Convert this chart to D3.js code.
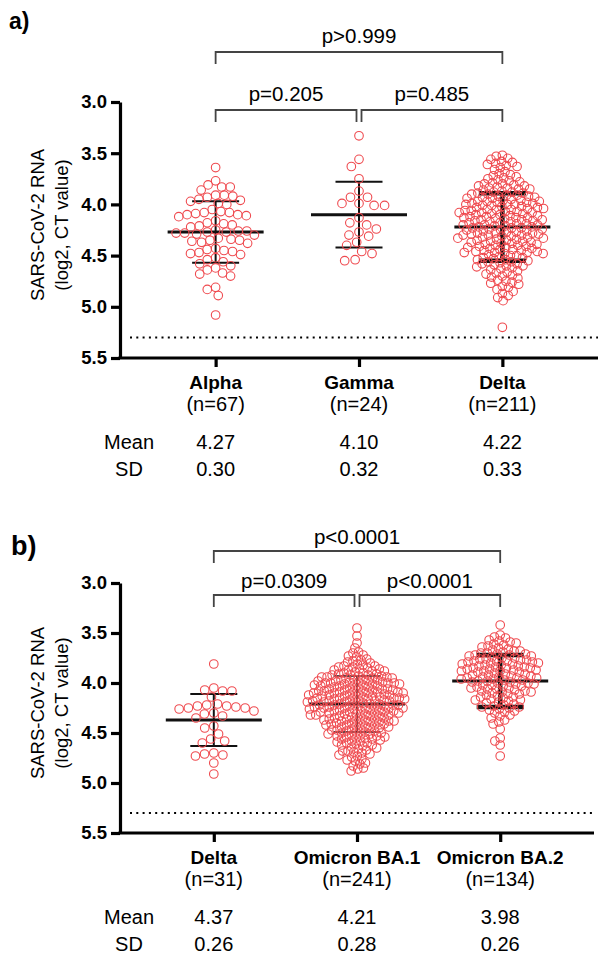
<!DOCTYPE html>
<html>
<head>
<meta charset="utf-8">
<script src="https://cdn.jsdelivr.net/npm/d3@7"></script>
<style>
  body { margin: 0; background: #fff; }
  svg { display: block; font-family: "Liberation Sans", Arial, sans-serif; }
</style>
</head>
<body>
<div id="chart"></div>
<script>
// ---- data ----
var groupsA = ["Alpha", "Gamma", "Delta"];
var countsA = [67, 24, 211];
var meansA = [4.27, 4.10, 4.22];
var sdsA = [0.30, 0.32, 0.33];
var pairsA = [[0, 1], [1, 2], [0, 2]];
var pLabelsA = ["p=0.205", "p=0.485", "p>0.999"];

var groupsB = ["Delta", "Omicron BA.1", "Omicron BA.2"];
var countsB = [31, 241, 134];
var meansB = [4.37, 4.21, 3.98];
var sdsB = [0.26, 0.28, 0.26];
var pairsB = [[0, 1], [1, 2], [0, 2]];
var pLabelsB = ["p=0.0309", "p<0.0001", "p<0.0001"];

var yTicks = [3.0, 3.5, 4.0, 4.5, 5.0, 5.5];
var detectionLimit = 5.3;

var alpha = [3.64, 3.77, 3.81, 3.83, 3.83, 3.86, 3.91, 3.91, 3.92, 3.93, 3.95, 3.96, 3.97,
  3.99, 4.00,
  4.05, 4.07, 4.08, 4.08, 4.09, 4.10, 4.10, 4.11, 4.12,
  4.16, 4.18, 4.19, 4.20, 4.21, 4.22,
  4.25, 4.26, 4.26, 4.27, 4.27, 4.28, 4.28, 4.29, 4.30,
  4.33, 4.34, 4.35, 4.35, 4.36, 4.37, 4.38,
  4.43, 4.44, 4.45, 4.46, 4.47, 4.48, 4.49,
  4.52, 4.54, 4.56, 4.58, 4.60, 4.62, 4.64,
  4.67, 4.68, 4.70, 4.81, 4.83, 4.89, 5.08];

var gamma = [3.33, 3.56, 3.63, 3.75, 3.87, 3.93, 3.93, 3.99, 3.99, 4.01, 4.01, 4.13,
  4.18, 4.20, 4.24, 4.27, 4.30, 4.31, 4.37, 4.40, 4.46, 4.48, 4.54, 4.55];

var deltaA = [3.52, 3.53, 3.55, 3.56, 3.58,
  3.59, 3.60, 3.61, 3.62, 3.63, 3.64,
  3.66, 3.68, 3.70, 3.71,
  3.72, 3.73, 3.74, 3.75, 3.76, 3.77, 3.78, 3.79,
  3.80, 3.80, 3.81, 3.82, 3.82, 3.83, 3.84, 3.84, 3.85, 3.85, 3.86, 3.87,
  3.88, 3.88, 3.89, 3.89, 3.90, 3.90, 3.91, 3.91, 3.92, 3.92, 3.93, 3.93, 3.94, 3.94, 3.95,
  3.96, 3.96, 3.97, 3.97, 3.97, 3.98, 3.98, 3.99, 3.99, 4.00, 4.00, 4.00, 4.01, 4.01, 4.02, 4.02,
  4.03, 4.03, 4.04, 4.04, 4.05, 4.05, 4.05, 4.06, 4.06, 4.07, 4.07, 4.08, 4.08, 4.08, 4.09, 4.09, 4.10,
  4.10, 4.11, 4.11, 4.12, 4.12, 4.13, 4.13, 4.13, 4.14, 4.14, 4.15, 4.15, 4.15, 4.16, 4.16, 4.17, 4.17,
  4.18, 4.18, 4.19, 4.19, 4.20, 4.20, 4.20, 4.21, 4.21, 4.22, 4.22, 4.23, 4.23, 4.23, 4.24, 4.24, 4.25,
  4.25, 4.26, 4.26, 4.27, 4.27, 4.28, 4.28, 4.28, 4.29, 4.29, 4.30, 4.30, 4.30, 4.31, 4.31, 4.32, 4.32,
  4.33, 4.33, 4.34, 4.34, 4.35, 4.35, 4.36, 4.36, 4.37, 4.37, 4.38, 4.38, 4.39, 4.39, 4.40, 4.40,
  4.41, 4.41, 4.42, 4.42, 4.43, 4.43, 4.44, 4.44, 4.45, 4.45, 4.46, 4.46, 4.47, 4.47, 4.47,
  4.48, 4.48, 4.49, 4.50, 4.50, 4.51, 4.52, 4.52, 4.53, 4.54, 4.54, 4.55,
  4.56, 4.56, 4.57, 4.58, 4.58, 4.59, 4.60, 4.60, 4.61, 4.62,
  4.63, 4.64, 4.65, 4.66, 4.67, 4.68, 4.69, 4.70,
  4.71, 4.72, 4.74, 4.75, 4.76, 4.77,
  4.78, 4.80, 4.81, 4.83, 4.85,
  4.87, 4.89, 4.91, 4.94, 5.20];

var deltaB = [3.81, 4.05, 4.07, 4.08, 4.08, 4.14,
  4.21, 4.22, 4.23, 4.23, 4.24, 4.25, 4.25, 4.26,
  4.28, 4.30, 4.31, 4.33, 4.35, 4.43, 4.45, 4.51,
  4.56, 4.58, 4.60, 4.70, 4.71, 4.72, 4.73, 4.80, 4.91];

var ba1 = [3.45, 3.53, 3.60, 3.65,
  3.69, 3.70, 3.72, 3.73, 3.74,
  3.76, 3.77, 3.78, 3.79, 3.80, 3.81, 3.82,
  3.83, 3.83, 3.84, 3.84, 3.85, 3.86, 3.86, 3.87, 3.87, 3.88, 3.88, 3.89, 3.90,
  3.90, 3.91, 3.91, 3.92, 3.92, 3.92, 3.93, 3.93, 3.94, 3.94, 3.94, 3.95, 3.95, 3.95, 3.96, 3.96, 3.97, 3.97,
  3.98, 3.98, 3.98, 3.99, 3.99, 3.99, 4.00, 4.00, 4.00, 4.00, 4.01, 4.01, 4.01, 4.02, 4.02, 4.02, 4.03, 4.03, 4.03, 4.04, 4.04, 4.05,
  4.05, 4.06, 4.06, 4.06, 4.07, 4.07, 4.07, 4.08, 4.08, 4.08, 4.08, 4.09, 4.09, 4.09, 4.10, 4.10, 4.10, 4.10, 4.11, 4.11, 4.11, 4.12, 4.12, 4.12,
  4.13, 4.13, 4.13, 4.14, 4.14, 4.14, 4.15, 4.15, 4.15, 4.15, 4.16, 4.16, 4.16, 4.17, 4.17, 4.17, 4.18, 4.18, 4.18, 4.18, 4.19, 4.19, 4.19, 4.20,
  4.20, 4.21, 4.21, 4.21, 4.22, 4.22, 4.22, 4.22, 4.23, 4.23, 4.23, 4.24, 4.24, 4.24, 4.25, 4.25, 4.25, 4.25, 4.26, 4.26, 4.26, 4.27, 4.27, 4.27,
  4.28, 4.28, 4.28, 4.29, 4.29, 4.29, 4.30, 4.30, 4.30, 4.31, 4.31, 4.31, 4.32, 4.32, 4.32, 4.33, 4.33, 4.33, 4.34, 4.34, 4.35, 4.35,
  4.36, 4.36, 4.36, 4.37, 4.37, 4.37, 4.38, 4.38, 4.38, 4.39, 4.39, 4.40, 4.40, 4.40, 4.41, 4.41, 4.42, 4.42, 4.42,
  4.43, 4.43, 4.44, 4.44, 4.45, 4.45, 4.46, 4.46, 4.47, 4.47, 4.48, 4.48, 4.49, 4.49, 4.50, 4.50,
  4.51, 4.51, 4.52, 4.52, 4.53, 4.53, 4.54, 4.54, 4.55, 4.55, 4.56, 4.56, 4.57,
  4.58, 4.58, 4.59, 4.60, 4.60, 4.61, 4.62, 4.62, 4.63, 4.64, 4.65,
  4.66, 4.67, 4.68, 4.68, 4.69, 4.70, 4.71, 4.72,
  4.73, 4.74, 4.76, 4.77, 4.78, 4.80,
  4.81, 4.83, 4.85, 4.86, 4.88];

var ba2 = [3.42,
  3.52, 3.54, 3.55, 3.57, 3.58, 3.59,
  3.60, 3.61, 3.62, 3.63, 3.64, 3.65, 3.66, 3.67,
  3.68, 3.68, 3.69, 3.70, 3.70, 3.71, 3.71, 3.72, 3.72, 3.73, 3.73, 3.74, 3.75,
  3.75, 3.76, 3.76, 3.77, 3.77, 3.78, 3.78, 3.78, 3.79, 3.79, 3.80, 3.80, 3.81, 3.81, 3.82, 3.82,
  3.83, 3.83, 3.84, 3.84, 3.85, 3.85, 3.85, 3.86, 3.86, 3.87, 3.87, 3.88, 3.88, 3.88, 3.89, 3.89, 3.90,
  3.91, 3.91, 3.92, 3.92, 3.93, 3.93, 3.94, 3.94, 3.95, 3.95, 3.95, 3.96, 3.96, 3.97, 3.97,
  3.98, 3.98, 3.99, 3.99, 4.00, 4.00, 4.01, 4.01, 4.02, 4.02, 4.03, 4.03, 4.04, 4.05,
  4.05, 4.06, 4.06, 4.07, 4.08, 4.08, 4.09, 4.09, 4.10, 4.11, 4.11, 4.12,
  4.13, 4.14, 4.14, 4.15, 4.16, 4.17, 4.17, 4.18, 4.19, 4.20,
  4.21, 4.22, 4.23, 4.24, 4.24, 4.25, 4.26, 4.27,
  4.28, 4.29, 4.30, 4.32, 4.33, 4.35,
  4.37, 4.39, 4.41, 4.46, 4.55, 4.58, 4.62, 4.73];

var valuesA = [alpha, gamma, deltaA];
var valuesB = [deltaB, ba1, ba2];

// ---- layout ----
var W = 598, H = 956;
var dotColor = "#ef4a4f";
var fmt2 = d3.format(".2f");

var svg = d3.select("#chart").append("svg")
    .attr("width", W)
    .attr("height", H);

var panels = [
  { label: "a)", labelSize: 23, labelX: 9, labelY: 29,
    top: 102, bottom: 358, left: 120, right: 598, padding: 0.667,
    groups: groupsA, counts: countsA, means: meansA, sds: sdsA, values: valuesA,
    pairs: pairsA, pLabels: pLabelsA, bracketY: [110, 110, 52], pGap: 9,
    spacing: [8.6, 10.5, 6.2], sdWidth: [2, 2, 4.5] },
  { label: "b)", labelSize: 27, labelX: 11, labelY: 555,
    top: 583, bottom: 833, left: 120, right: 594, padding: 0.655,
    groups: groupsB, counts: countsB, means: meansB, sds: sdsB, values: valuesB,
    pairs: pairsB, pLabels: pLabelsB, bracketY: [595, 595, 551], pGap: 7,
    spacing: [9.3, 5.4, 6.1], sdWidth: [2, 1.6, 4.5] }
];

// simple beeswarm: points placed top-down, each as close to the centre as possible
function swarm(vals, y, d) {
  var pts = vals.map(function (v) { return { v: v, y: y(v) }; })
      .sort(function (a, b) { return a.y - b.y; });
  var placed = [];
  pts.forEach(function (p) {
    var near = placed.filter(function (q) { return Math.abs(q.y - p.y) < d; });
    var cands = [0];
    near.forEach(function (q) {
      var dx = Math.sqrt(d * d - (q.y - p.y) * (q.y - p.y));
      cands.push(q.dx + dx, q.dx - dx);
    });
    cands.sort(function (a, b) { return Math.abs(a) - Math.abs(b) || a - b; });
    for (var i = 0; i < cands.length; i++) {
      var c = cands[i];
      var ok = near.every(function (q) {
        return (q.dx - c) * (q.dx - c) + (q.y - p.y) * (q.y - p.y) >= d * d - 0.01;
      });
      if (ok) { p.dx = c; break; }
    }
    placed.push(p);
  });
  return pts;
}

function drawPanel(cfg) {
  var g = svg.append("g");

  var y = d3.scaleLinear().domain([3, 5.5]).range([cfg.top, cfg.bottom]);
  var x = d3.scalePoint().domain(cfg.groups).range([cfg.left, cfg.right]).padding(cfg.padding);

  g.append("text")
      .attr("x", cfg.labelX)
      .attr("y", cfg.labelY)
      .attr("font-size", cfg.labelSize)
      .attr("font-weight", "bold")
      .text(cfg.label);

  // y axis
  var yAxis = g.append("g")
      .attr("transform", "translate(" + cfg.left + ",0)")
      .call(d3.axisLeft(y).tickValues(yTicks).tickFormat(d3.format(".1f"))
          .tickSize(9).tickSizeOuter(0).tickPadding(4));
  yAxis.select(".domain").attr("stroke", "#000").attr("stroke-width", 3.2);
  yAxis.selectAll(".tick line").attr("stroke", "#000").attr("stroke-width", 3.2);
  yAxis.selectAll(".tick text")
      .attr("font-size", 18.5)
      .attr("font-weight", "bold")
      .attr("fill", "#000")
      .attr("font-family", "Liberation Sans, Arial, sans-serif");

  // x axis
  var xAxis = g.append("g")
      .attr("transform", "translate(0," + cfg.bottom + ")")
      .call(d3.axisBottom(x).tickFormat("").tickSize(9).tickSizeOuter(0));
  xAxis.select(".domain").attr("stroke", "#000").attr("stroke-width", 3.2)
      .attr("d", "M" + (cfg.left - 1.6) + ",0H" + cfg.right);
  xAxis.selectAll(".tick line").attr("stroke", "#000").attr("stroke-width", 3.2);

  // axis title
  var midY = (cfg.top + cfg.bottom) / 2 - 5;
  var title = g.append("text")
      .attr("transform", "translate(50," + midY + ") rotate(-90)")
      .attr("text-anchor", "middle")
      .attr("font-size", 18.5);
  title.append("tspan").attr("x", 0).attr("y", -6).text("SARS-CoV-2 RNA");
  title.append("tspan").attr("x", 0).attr("y", 18).text("(log2, CT value)");

  // detection limit
  g.append("line")
      .attr("x1", cfg.left + 10).attr("x2", cfg.right)
      .attr("y1", y(detectionLimit)).attr("y2", y(detectionLimit))
      .attr("stroke", "#000")
      .attr("stroke-width", 2)
      .attr("stroke-dasharray", "2,4.3");

  // mean and SD bars
  cfg.groups.forEach(function (name, i) {
    var cx = x(name);
    var m = cfg.means[i], s = cfg.sds[i];
    var bar = g.append("g").attr("stroke", "#111");
    bar.append("line")
        .attr("x1", cx).attr("x2", cx)
        .attr("y1", y(m - s)).attr("y2", y(m + s))
        .attr("stroke-width", cfg.sdWidth[i]);
    [m - s, m + s].forEach(function (v) {
      bar.append("line")
          .attr("x1", cx - 23.5).attr("x2", cx + 23.5)
          .attr("y1", y(v)).attr("y2", y(v))
          .attr("stroke-width", cfg.sdWidth[i]);
    });
    bar.append("line")
        .attr("x1", cx - 48).attr("x2", cx + 48)
        .attr("y1", y(m)).attr("y2", y(m))
        .attr("stroke-width", 3);
  });

  // dots
  cfg.groups.forEach(function (name, i) {
    var pts = swarm(cfg.values[i], y, cfg.spacing[i]);
    g.append("g").selectAll("circle")
        .data(pts)
        .enter()
        .append("circle")
        .attr("cx", function (p) { return x(name) + p.dx; })
        .attr("cy", function (p) { return p.y; })
        .attr("r", 4.3)
        .attr("fill", "none")
        .attr("stroke", dotColor)
        .attr("stroke-width", 1.1);
  });

  // category labels
  cfg.groups.forEach(function (name, i) {
    var cx = x(name);
    g.append("text")
        .attr("x", cx).attr("y", cfg.bottom + 31)
        .attr("text-anchor", "middle")
        .attr("font-size", 19)
        .attr("font-weight", "bold")
        .text(name);
    g.append("text")
        .attr("x", cx).attr("y", cfg.bottom + 53)
        .attr("text-anchor", "middle")
        .attr("font-size", 20)
        .text("(n=" + cfg.counts[i] + ")");
    g.append("text")
        .attr("x", cx).attr("y", cfg.bottom + 91)
        .attr("text-anchor", "middle")
        .attr("font-size", 20)
        .text(fmt2(cfg.means[i]));
    g.append("text")
        .attr("x", cx).attr("y", cfg.bottom + 118)
        .attr("text-anchor", "middle")
        .attr("font-size", 20)
        .text(fmt2(cfg.sds[i]));
  });
  g.append("text")
      .attr("x", 129).attr("y", cfg.bottom + 91)
      .attr("text-anchor", "middle")
      .attr("font-size", 20)
      .text("Mean");
  g.append("text")
      .attr("x", 129).attr("y", cfg.bottom + 118)
      .attr("text-anchor", "middle")
      .attr("font-size", 20)
      .text("SD");

  // significance brackets
  cfg.pairs.forEach(function (pr, k) {
    var x1 = x(cfg.groups[pr[0]]), x2 = x(cfg.groups[pr[1]]);
    if (pr[1] - pr[0] === 1) {
      if (pr[0] === 1) x1 += 2.5;
      if (pr[1] === 1) x2 -= 2.5;
    }
    var by = cfg.bracketY[k];
    g.append("path")
        .attr("d", "M" + x1 + "," + (by + 12) + "V" + by + "H" + x2 + "V" + (by + 12))
        .attr("fill", "none")
        .attr("stroke", "#444")
        .attr("stroke-width", 1.8);
    g.append("text")
        .attr("x", (x1 + x2) / 2)
        .attr("y", by - cfg.pGap)
        .attr("text-anchor", "middle")
        .attr("font-size", 20.5)
        .text(cfg.pLabels[k]);
  });
}

panels.forEach(drawPanel);
</script>
</body>
</html>
